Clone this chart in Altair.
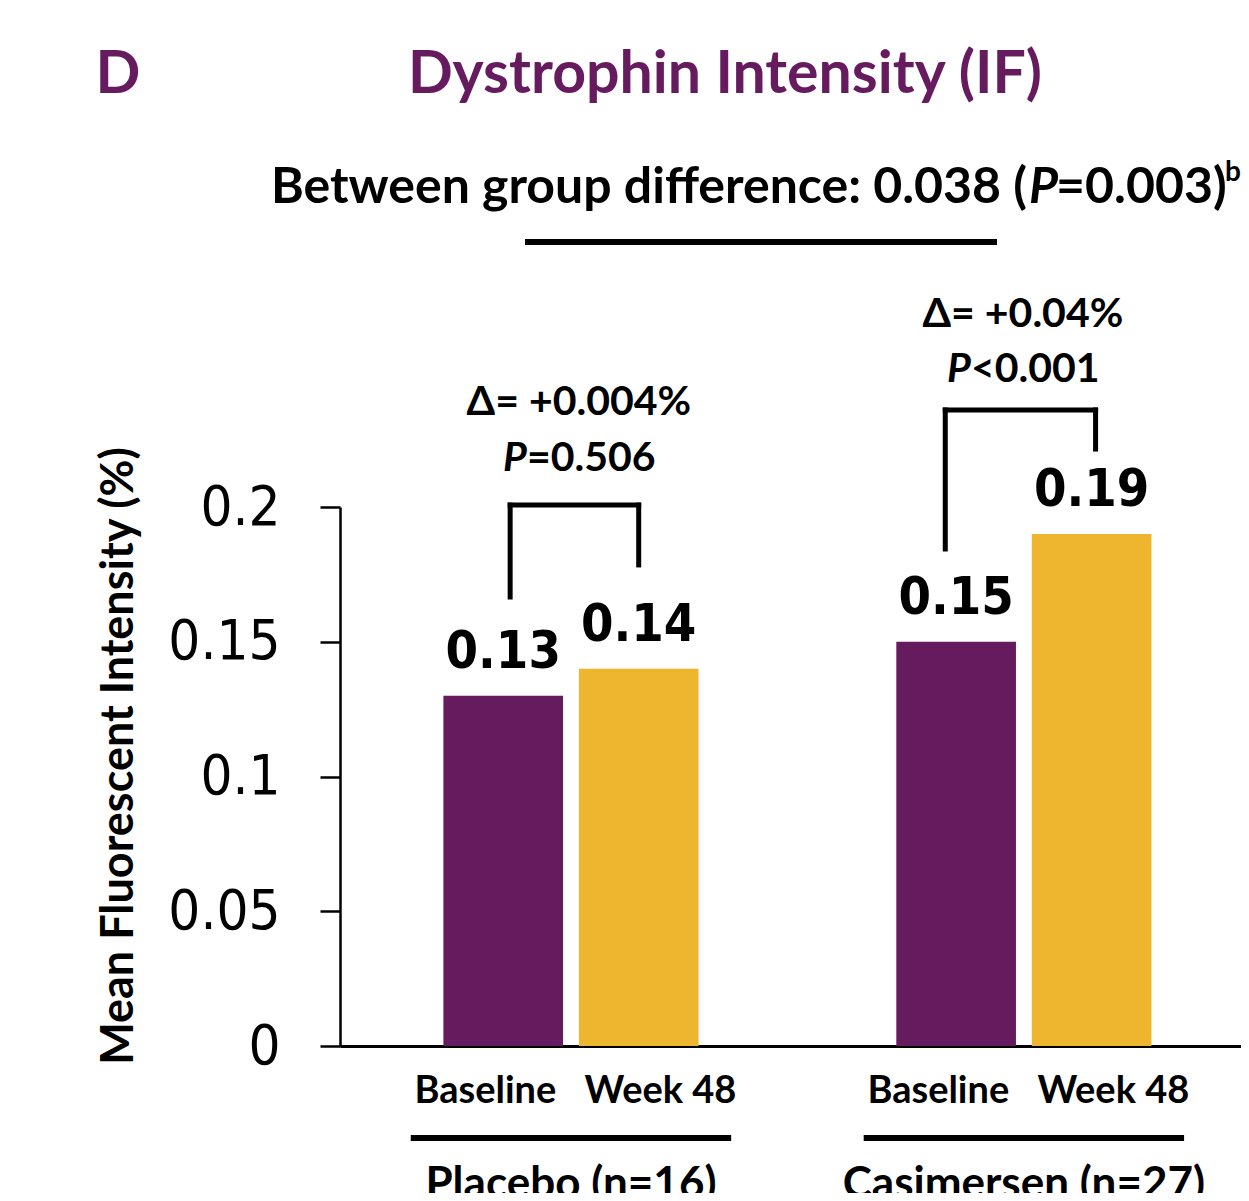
import altair as alt
import pandas as pd

# ---------------- data ----------------
groups = ["Placebo (n=16)", "Casimersen (n=27)"]
timepoints = ["Baseline", "Week 48"]
placebo_values = [0.13, 0.14]
casimersen_values = [0.15, 0.19]
value_labels = ["0.13", "0.14", "0.15", "0.19"]
delta_labels = ["Δ= +0.004%", "Δ= +0.04%"]
p_ops = ["=0.506", "<0.001"]
y_ticks = [0, 0.05, 0.1, 0.15, 0.2]
y_title = "Mean Fluorescent Intensity (%)"
main_title = "Dystrophin Intensity (IF)"
panel_letter = "D"
subtitle_main = "Between group difference: 0.038 ("
subtitle_p = "P"
subtitle_rest = "=0.003)"
subtitle_sup = "b"

# bracket extents (data units of y)
bracket_top = [0.2007, 0.236]
bracket_left_end = [0.1666, 0.1844]
bracket_right_end = [0.1785, 0.2215]
delta_y = [0.2341, 0.2668]
p_y = [0.2134, 0.2464]

# ---------------- layout ----------------
PLOT_W, PLOT_H = 901, 539
group_centers = [228.5, 686.5]
bar_half_gap = 68.5
bar_half_width = 60.5
label_dx = [-18, 22]
bracket_leg_dx = [[7, 0], [-11, 4]]
PURPLE = "#661B5F"
GOLD = "#EEB62E"
CAL = "Lato"
NUM = "DejaVu Sans Condensed"

rows = []
all_vals = [placebo_values, casimersen_values]
k = 0
for gi, g in enumerate(groups):
    for ti, t in enumerate(timepoints):
        xc = group_centers[gi] + (ti * 2 - 1) * bar_half_gap
        rows.append(dict(group=g, timepoint=t, value=all_vals[gi][ti],
                         xc=xc, x0=xc - bar_half_width, x1=xc + bar_half_width,
                         label=value_labels[k], xl=xc + label_dx[ti]))
        k += 1
bars_df = pd.DataFrame(rows)

xs = alt.Scale(domain=[0, PLOT_W], nice=False, zero=False)
ys = alt.Scale(domain=[0, 0.2], nice=False, zero=True)
AX_X = alt.Axis(labels=False, ticks=False, title=None, grid=False,
                domainColor="black", domainWidth=3)
AX_Y = alt.Axis(values=y_ticks, format="~g", title=None, grid=False,
                domainColor="black", domainWidth=2.5,
                tickColor="black", tickWidth=2.5, tickSize=20,
                labelFont=NUM, labelFontSize=56, labelColor="black",
                labelPadding=40)


def X(f):
    return alt.X(f, scale=xs, axis=AX_X, title=None)


def Y(f):
    return alt.Y(f, scale=ys, axis=AX_Y, title=None)


bars = alt.Chart(bars_df).mark_bar(orient="vertical").encode(
    x=X("x0:Q"), x2="x1:Q",
    y=Y("value:Q"), y2=alt.datum(0),
    color=alt.Color("timepoint:N", scale=alt.Scale(domain=timepoints, range=[PURPLE, GOLD]),
                    legend=None),
)

vlabels = alt.Chart(bars_df).mark_text(
    font=NUM, fontSize=52, fontWeight="bold", color="black",
    align="center", baseline="alphabetic", dy=-28,
).encode(x=X("xc:Q"), y=Y("value:Q"), text="label:N")

catlabels = alt.Chart(bars_df).mark_text(
    font=CAL, fontSize=38, fontWeight="bold", color="black",
    align="center", baseline="alphabetic",
).encode(x=X("xl:Q"), y=alt.value(PLOT_H + 57), text="timepoint:N")

# brackets
seg = []
for gi in range(2):
    xl = group_centers[gi] - bar_half_gap + bracket_leg_dx[gi][0]
    xr = group_centers[gi] + bar_half_gap + bracket_leg_dx[gi][1]
    seg.append(dict(xa=xl, xb=xr, ya=bracket_top[gi], yb=bracket_top[gi]))
    seg.append(dict(xa=xl, xb=xl, ya=bracket_left_end[gi], yb=bracket_top[gi]))
    seg.append(dict(xa=xr, xb=xr, ya=bracket_right_end[gi], yb=bracket_top[gi]))
seg_df = pd.DataFrame(seg)
brackets = alt.Chart(seg_df).mark_rule(color="black", strokeWidth=5, strokeCap="square").encode(
    x=X("xa:Q"), x2="xb:Q", y=Y("ya:Q"), y2="yb:Q",
)

ann_df = pd.DataFrame(dict(
    xc=[group_centers[0] + 8, group_centers[1] - 1],
    delta=delta_labels, pt=p_ops, dy_=delta_y, py=p_y,
))
delta_txt = alt.Chart(ann_df).mark_text(
    font=CAL, fontSize=41, fontWeight="bold", color="black", align="center", baseline="alphabetic"
).encode(x=X("xc:Q"), y=Y("dy_:Q"), text="delta:N")
p_italic = alt.Chart(ann_df).mark_text(
    font=CAL, fontSize=41, fontWeight="bold", fontStyle="italic", color="black",
    align="right", baseline="alphabetic", dx=-52
).encode(x=X("xc:Q"), y=Y("py:Q"), text=alt.value("P"))
p_rest = alt.Chart(ann_df).mark_text(
    font=CAL, fontSize=41, fontWeight="bold", color="black",
    align="left", baseline="alphabetic", dx=-52
).encode(x=X("xc:Q"), y=Y("py:Q"), text="pt:N")

# group underlines & labels
grp_df = pd.DataFrame(dict(group=groups, gc=group_centers,
                           ga=[c - 162 for c in group_centers], gb=[c + 162 for c in group_centers]))
grp_rule = alt.Chart(grp_df).mark_rule(color="black", strokeWidth=6).encode(
    x=X("ga:Q"), x2="gb:Q", y=alt.value(PLOT_H + 92))
grp_text = alt.Chart(grp_df).mark_text(
    font=CAL, fontSize=44, fontWeight="bold", color="black", align="center", baseline="alphabetic"
).encode(x=X("gc:Q"), y=alt.value(PLOT_H + 152), text="group:N")

# titles
one = pd.DataFrame({"k": [0]})


def txt(s, x, y, **kw):
    return alt.Chart(one).mark_text(baseline="alphabetic", **kw).encode(
        x=alt.value(x), y=alt.value(y), text=alt.value(s))


t_letter = txt(panel_letter, -222, -414, font=CAL, fontSize=59, fontWeight="bold", color=PURPLE, align="center")
t_title = txt(main_title, 385, -414, font=CAL, fontSize=59, fontWeight="bold", color=PURPLE, align="center")
s1 = txt(subtitle_main, 687, -304, font=CAL, fontSize=50, fontWeight="bold", color="black", align="right")
s2 = txt(subtitle_p, 689, -304, font=CAL, fontSize=50, fontWeight="bold", fontStyle="italic", color="black", align="left")
s3 = txt(subtitle_rest, 716, -304, font=CAL, fontSize=50, fontWeight="bold", color="black", align="left")
s4 = txt(subtitle_sup, 885, -326, font=CAL, fontSize=28, fontWeight="bold", color="black", align="left")
sub_rule = alt.Chart(one).mark_rule(color="black", strokeWidth=6).encode(
    x=alt.value(185), x2=alt.value(657), y=alt.value(-265))
ytitle = txt(y_title, -207, 249, font=CAL, fontSize=45, fontWeight="bold", color="black",
             align="center", angle=270)

chart = alt.layer(
    bars, vlabels, catlabels, brackets, delta_txt, p_italic, p_rest,
    grp_rule, grp_text, t_letter, t_title, s1, s2, s3, s4, sub_rule, ytitle,
).properties(
    width=PLOT_W, height=PLOT_H,
    autosize=alt.AutoSizeParams(type="none"),
    padding={"left": 332, "top": 499, "right": 0, "bottom": 147},
    background="white",
).configure_view(stroke=None)

chart.save("out.html", embed_options={"renderer": "svg", "actions": False})
